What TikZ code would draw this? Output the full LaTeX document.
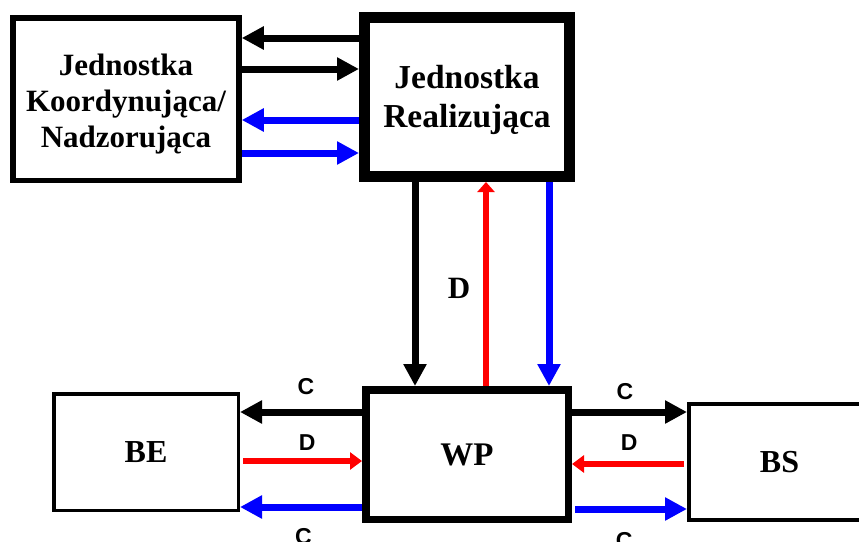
\documentclass[tikz,border=0pt]{standalone}
\usepackage{fontspec}
\setmainfont{Liberation Serif}
\newfontfamily\labelfont{Liberation Sans}
\usetikzlibrary{arrows.meta}

\begin{document}
\begin{tikzpicture}[x=1pt,y=-1pt,
  unit/.style={draw,inner sep=0pt,align=center,font=\fontsize{31}{36}\selectfont\bfseries},
  flow/.style={line width=7pt,-{Triangle[length=22pt,width=22pt]}},
  dflow/.style={red,line width=5.5pt,-{Triangle[length=12pt,width=17pt]}},
  lab/.style={font=\labelfont\bfseries\fontsize{23}{26}\selectfont,inner sep=0pt,text=black}
]
\useasboundingbox (0,0) rectangle (859,541);
\clip (0,0) rectangle (859,541);
% units
\node[unit,line width=5.5pt,minimum width=226pt,minimum height=162.5pt] (jk) at (126,99) {\rule{0pt}{31pt}Jednostka\\Koordynująca/\\Nadzorująca};
\node[unit,line width=11pt,minimum width=205pt,minimum height=159pt,font=\fontsize{33.5}{39}\selectfont\bfseries] (jr) at (467,97) {\rule{0pt}{30pt}Jednostka\\Realizująca};
\node[unit,line width=7.5pt,minimum width=202.5pt,minimum height=129.5pt,font=\fontsize{33}{39}\selectfont\bfseries] (wp) at (467,454.5) {WP};
\node[unit,line width=3.5pt,minimum width=184.5pt,minimum height=116.5pt,font=\fontsize{32}{38}\selectfont\bfseries] (be) at (146,452) {BE};
\node[unit,line width=4pt,minimum width=181pt,minimum height=116pt,font=\fontsize{32}{38}\selectfont\bfseries] (bs) at (779.5,462) {BS};
% top links
\draw[flow] ([yshift=59pt]jr.west) -- ([yshift=61pt]jk.east);
\draw[flow] ([yshift=30pt]jk.east) -- ([yshift=28pt]jr.west);
\draw[flow,blue] ([yshift=-23pt]jr.west) -- ([yshift=-21pt]jk.east);
\draw[flow,blue] ([yshift=-54pt]jk.east) -- ([yshift=-56pt]jr.west);
% vertical links
\draw[flow] ([xshift=-52pt]jr.south) -- ([xshift=-52pt]wp.north);
\draw[dflow,-{Triangle[length=10pt,width=17pt]}] ([xshift=19pt]wp.north) -- node[pos=.48,left=13pt,inner sep=0pt,font=\fontsize{31}{36}\selectfont\bfseries,text=black]{D} ([xshift=19pt]jr.south);
\draw[flow,blue] ([xshift=82pt]jr.south) -- ([xshift=82pt]wp.north);
% BE side
\draw[flow] ([yshift=42.5pt]wp.west) -- node[lab,pos=.46,above=13.5pt]{C} ([yshift=40pt]be.east);
\draw[dflow] ([yshift=-9pt,xshift=3pt]be.east) -- node[lab,pos=.54,above=7.75pt]{D} ([yshift=-6.5pt]wp.west);
\draw[flow,blue] ([yshift=-52.5pt]wp.west) -- node[lab,pos=.48,below=17.5pt]{C} ([yshift=-55pt]be.east);
% BS side
\draw[flow] ([yshift=42.5pt]wp.east) -- node[lab,pos=.46,above=8.5pt]{C} ([yshift=50pt]bs.west);
\draw[dflow] ([yshift=-2pt,xshift=-3pt]bs.west) -- node[lab,pos=.49,above=10.5pt]{D} ([yshift=-9.5pt]wp.east);
\draw[flow,blue] ([yshift=-54.5pt,xshift=3pt]wp.east) -- node[lab,pos=.44,below=19.5pt]{C} ([yshift=-47pt]bs.west);
\end{tikzpicture}
\end{document}
